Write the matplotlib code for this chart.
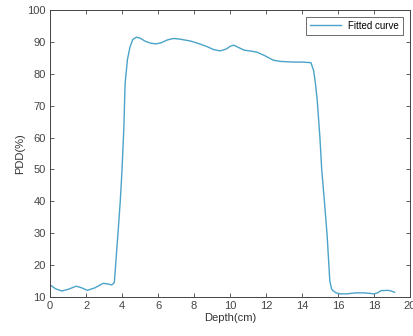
import matplotlib.pyplot as plt

plt.rcParams['font.family'] = ['Liberation Sans', 'DejaVu Sans']

# depth (cm) and PDD (%)
depth = [0.0, 0.3, 0.65, 1.0, 1.45, 1.75, 2.07, 2.5, 2.95, 3.2, 3.43, 3.57,
         3.7, 3.8, 3.9, 4.0, 4.1, 4.17, 4.3, 4.44, 4.6, 4.8, 5.0, 5.3, 5.6,
         5.9, 6.2, 6.5, 6.85, 7.2, 7.5, 7.8, 8.2, 8.7, 9.1, 9.45, 9.8, 10.0,
         10.2, 10.5, 10.8, 11.1, 11.5, 11.9, 12.4, 12.8, 13.5, 14.0, 14.5,
         14.65, 14.75, 14.85, 15.0, 15.1, 15.25, 15.4, 15.55, 15.65, 15.75,
         15.9, 16.1, 16.5, 17.0, 17.5, 18.0, 18.2, 18.4, 18.8, 19.0, 19.15]
pdd = [13.8, 12.6, 11.9, 12.4, 13.4, 12.9, 12.1, 12.9, 14.3, 14.1, 13.8, 14.5,
       24.4, 32.0, 40.0, 50.0, 63.0, 77.0, 84.5, 88.4, 90.8, 91.5, 91.2, 90.2,
       89.6, 89.4, 89.8, 90.6, 91.1, 90.9, 90.6, 90.3, 89.6, 88.6, 87.6, 87.2,
       87.8, 88.6, 89.0, 88.2, 87.4, 87.2, 86.8, 85.8, 84.3, 83.9, 83.7, 83.7,
       83.5, 81.0, 77.0, 71.7, 60.0, 50.0, 40.0, 29.4, 15.0, 12.5, 11.9, 11.3,
       11.0, 11.0, 11.3, 11.3, 11.0, 11.3, 12.0, 12.1, 11.8, 11.5]

fig = plt.figure(figsize=(4.14, 3.36), dpi=100)
ax = fig.add_axes([0.121, 0.116, 0.869, 0.854])

ax.plot(depth, pdd, color='#4aa3c9', lw=1.0, label='Fitted curve')

ax.set_xlim(0, 20)
ax.set_ylim(10, 100)
ax.set_xticks(range(0, 21, 2))
ax.set_yticks(range(10, 101, 10))
ax.tick_params(direction='in', top=True, right=True, length=3, width=0.6,
               labelsize=8, colors='#444444', pad=3)
for s in ax.spines.values():
    s.set_color('#444444')
    s.set_linewidth(0.7)

ax.set_xlabel('Depth(cm)', fontsize=8, color='#333333', labelpad=1)
ax.set_ylabel('PDD(%)', fontsize=8, color='#333333', labelpad=2)

leg = ax.legend(loc='upper right', fontsize=7, frameon=True, fancybox=False,
                borderaxespad=0.7, handlelength=3.2, borderpad=0.4)
leg.get_frame().set_edgecolor('#444444')
leg.get_frame().set_linewidth(0.7)

fig.savefig('out.png', dpi=100)
